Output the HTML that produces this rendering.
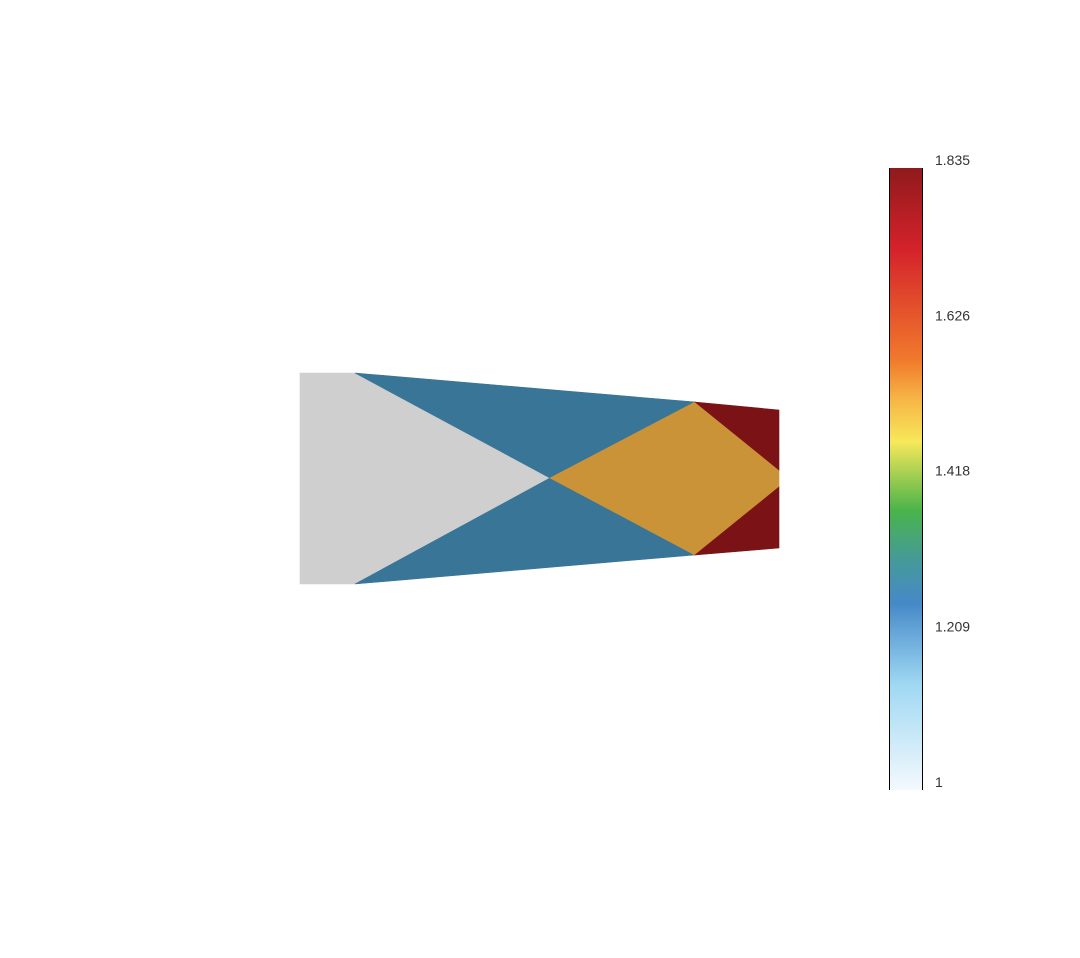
<!DOCTYPE html>
<html><head><meta charset="utf-8"><style>
html,body{margin:0;padding:0;background:#fff;}
svg{display:block;font-family:"Liberation Sans",sans-serif;}
</style></head><body>
<svg id="chart" width="1080" height="958" viewBox="0 0 1080 958" xmlns="http://www.w3.org/2000/svg">
<defs>
<linearGradient id="cbgrad" x1="0" y1="1" x2="0" y2="0">
<stop offset="0" stop-color="#f4f9fd"/>
<stop offset="0.17" stop-color="#9fd8f3"/>
<stop offset="0.30" stop-color="#4689c8"/>
<stop offset="0.37" stop-color="#459a98"/>
<stop offset="0.45" stop-color="#4ab44a"/>
<stop offset="0.56" stop-color="#f7e85a"/>
<stop offset="0.63" stop-color="#f6b445"/>
<stop offset="0.69" stop-color="#f17a2d"/>
<stop offset="0.87" stop-color="#d4222b"/>
<stop offset="1" stop-color="#8f1a1c"/>
</linearGradient>
</defs>
<g id="plot"></g>
<g id="colorbar">
<rect x="889" y="168" width="34" height="622" fill="url(#cbgrad)"/>
<line x1="889.5" y1="168" x2="889.5" y2="790" stroke="#000" stroke-width="1"/>
<line x1="922.5" y1="168" x2="922.5" y2="790" stroke="#000" stroke-width="1"/>
</g>
<g id="cbticks"></g>
</svg>
<script>
const regionNames = ['grey-region','blue-top','blue-bottom','orange-diamond','red-top','red-bottom'];
const regionValues = [1.0, 1.27, 1.27, 1.527, 1.835, 1.835];
const regionX = [
  [0, 0.55, 2.5, 0.55, 0],
  [0.55, 3.95, 2.5],
  [2.5, 3.94, 0.55],
  [2.5, 3.95, 4.79, 4.79, 3.95],
  [3.95, 4.79, 4.79],
  [3.95, 4.79, 4.79]
];
const regionY = [
  [1.05, 1.05, 0, -1.06, -1.06],
  [1.05, 0.76, 0],
  [0, -0.77, -1.06],
  [0, 0.76, 0.08, -0.09, -0.77],
  [0.76, 0.68, 0.08],
  [-0.77, -0.09, -0.70]
];
const tickValues = [1, 1.209, 1.418, 1.626, 1.835];
const tickLabels = ['1', '1.209', '1.418', '1.626', '1.835'];

const cmin = 1, cmax = 1.835;
const xScale = x => 300 + x * 100;
const yScale = y => 478 - y * 100;
const cbScale = v => 782 - (v - cmin) / (cmax - cmin) * 622;

const stops = [[0,[253,253,253]],[0.17,[159,216,243]],[0.30,[70,137,200]],[0.37,[69,154,152]],[0.45,[74,180,74]],[0.56,[247,232,90]],[0.63,[246,180,69]],[0.69,[241,122,45]],[0.87,[212,34,43]],[1,[150,22,25]]];
function colorFor(v){
  let t = Math.max(0, Math.min(1, (v - cmin) / (cmax - cmin)));
  let c = stops[stops.length-1][1];
  for (let i = 0; i < stops.length - 1; i++) {
    if (t >= stops[i][0] && t <= stops[i+1][0]) {
      const f = (t - stops[i][0]) / (stops[i+1][0] - stops[i][0]);
      c = stops[i][1].map((a, k) => a + (stops[i+1][1][k] - a) * f);
      break;
    }
  }
  return 'rgb(' + c.map(a => Math.round(a * 0.82)).join(',') + ')';
}
const NS = 'http://www.w3.org/2000/svg';
const plot = document.getElementById('plot');
regionNames.forEach((name, i) => {
  const p = document.createElementNS(NS, 'polygon');
  const pts = regionX[i].map((x, j) => xScale(x) + ',' + yScale(regionY[i][j])).join(' ');
  p.setAttribute('points', pts);
  const fill = colorFor(regionValues[i]);
  p.setAttribute('fill', fill);
  p.setAttribute('stroke', fill);
  p.setAttribute('stroke-width', '0.6');
  
  
  plot.appendChild(p);
});
const ticks = document.getElementById('cbticks');
tickValues.forEach((v, i) => {
  const t = document.createElementNS(NS, 'text');
  t.setAttribute('x', 935);
  t.setAttribute('y', cbScale(v) + 5);
  t.setAttribute('font-size', '14');
  t.setAttribute('fill', '#333');
  t.textContent = tickLabels[i];
  
  
  ticks.appendChild(t);
});
</script>
</body></html>
